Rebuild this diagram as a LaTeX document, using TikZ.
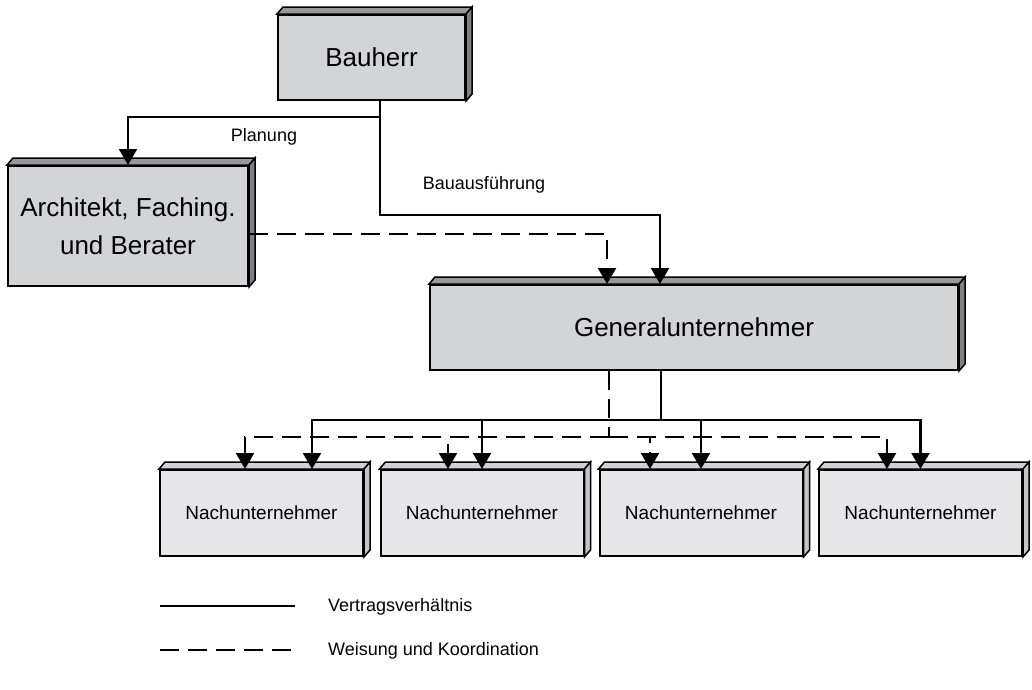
\documentclass[tikz,border=0pt]{standalone}
\usepackage{fontspec}
\setmainfont{Liberation Sans}
\usetikzlibrary{arrows.meta}
\definecolor{facegray}{RGB}{211,212,214}
\definecolor{sidegray}{RGB}{128,128,131}
\definecolor{subface}{RGB}{230,230,232}
\definecolor{subside}{RGB}{196,197,199}
\tikzstyle{main box}=[draw, line width=2pt, fill=facegray, align=center, inner sep=0pt, font=\fontsize{26}{38}\selectfont]
\tikzstyle{sub box}=[draw, line width=2pt, fill=subface, inner sep=0pt, minimum width=203pt, minimum height=86pt, font=\fontsize{19}{23}\selectfont]
\tikzstyle{edge} = [draw, line width=2.1pt]
\tikzstyle{weisung} = [edge, dash pattern=on 19pt off 9pt]
\tikzstyle{to box} = [-{Triangle[length=16pt,width=18pt]}]
\tikzstyle{note} = [draw=none, inner sep=0pt, font=\fontsize{18}{22}\selectfont]

\begin{document}
\begin{tikzpicture}[x=1pt, y=-1pt]
	\useasboundingbox (0,0) rectangle (1032,689);
	% First we draw the boxes
	\foreach \pos/\label/\w/\name in {
		{(371.5,57.5)/bau/187/Bauherr},
		{(694,327.5)/gu/528/Generalunternehmer}}
	\node[main box, minimum width=\w pt, minimum height=85pt] (\label) at \pos {\name};
	
	\node[main box, minimum width=240pt, minimum height=120pt] (arch) at (128,226) {Architekt, Faching.\\und Berater};
	
	\foreach \pos/\label in {
		{(261.5,513)/nu1},
		{(482,513)/nu2},
		{(701,513)/nu3},
		{(920.5,513)/nu4}}
	\node[sub box] (\label) at \pos {Nachunternehmer};
	
	% Top and side faces
	\foreach \n/\c in {bau/sidegray, arch/sidegray, gu/sidegray, nu1/subside, nu2/subside, nu3/subside, nu4/subside}{
		\draw[line width=1.5pt, fill=\c!80] (\n.north west) -- ++(6,-7) -- ([shift={(6,-7)}]\n.north east) -- (\n.north east) -- cycle;
		\draw[line width=1.5pt, fill=\c] (\n.north east) -- ++(6,-7) -- ([shift={(6,-7)}]\n.south east) -- (\n.south east) -- cycle;
	}
	
	% Connect boxes
	\coordinate (split) at (380,117);
	\coordinate (bus) at (661,420);
	\coordinate (wbus) at (609,437);
	\path[edge] ([xshift=8.5pt]bau.south) -- (split);
	\path[edge, to box] (split) -| (arch.north);
	\path[edge, to box] (split) -- ++(0,98) -| ([xshift=-34pt]gu.north);
	\path[weisung, to box] ([yshift=-8pt]arch.east) -| ([xshift=-87pt]gu.north);
	
	\path[edge] ([xshift=-33pt]gu.south) -- (bus);
	\path[weisung] ([xshift=-85pt]gu.south) -- (wbus);
	\foreach \n/\dx in {nu1/50.5, nu2/0, nu3/0, nu4/0}
	\path[edge, to box] (bus) -| ([xshift=\dx pt]\n.north);
	\foreach \n/\dx in {nu1/-16.5, nu2/-34, nu3/-51, nu4/-33.5}
	\path[weisung, to box] (wbus) -| ([xshift=\dx pt]\n.north);
	
	% Labels
	\node[note] (planung) at (264,137) {Planung};
	\node[note] (ausf) at (484,185) {Bauausführung};
	
	% Legend
	\node[note, anchor=west] (vertrag) at (328,607) {Vertragsverhältnis};
	\node[note, anchor=west] (koord) at (328,651) {Weisung und Koordination};
	\coordinate (leg1) at (160,606);
	\coordinate (leg2) at (160,650);
	\path[edge] (leg1) -- ++(135,0);
	\path[weisung] (leg2) -- ++(135,0);

\end{tikzpicture}
\end{document}
